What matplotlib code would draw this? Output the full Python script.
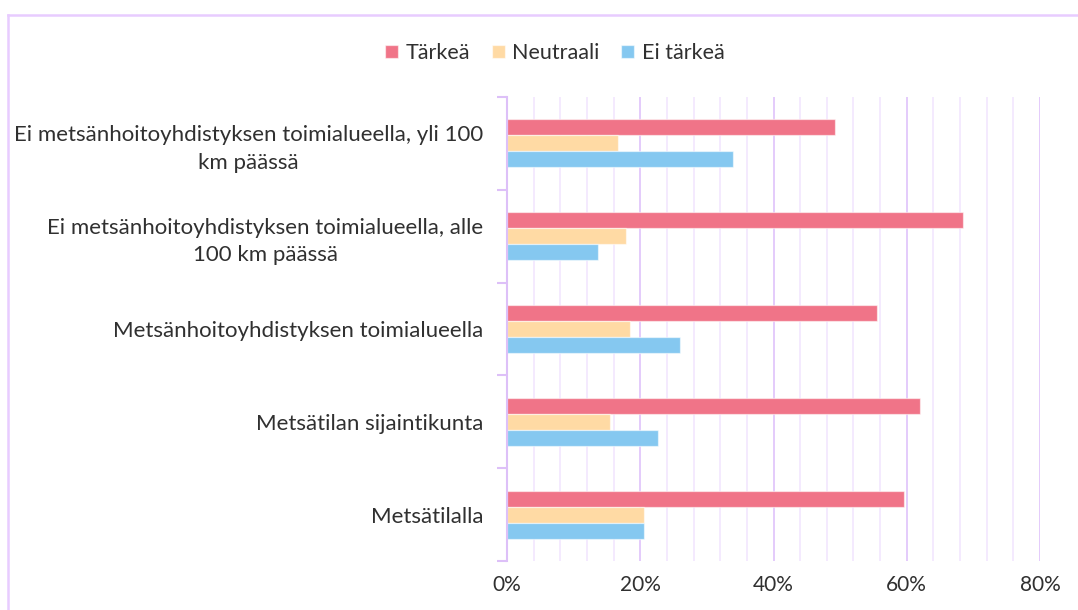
import matplotlib
matplotlib.use("Agg")
import matplotlib.pyplot as plt
from matplotlib.ticker import MultipleLocator, FuncFormatter
from matplotlib.lines import Line2D
import numpy as np

categories = [
    "Ei metsänhoitoyhdistyksen toimialueella, yli 100\nkm päässä",
    "Ei metsänhoitoyhdistyksen toimialueella, alle\n100 km päässä",
    "Metsänhoitoyhdistyksen toimialueella",
    "Metsätilan sijaintikunta",
    "Metsätilalla",
]
series_names = ["Tärkeä", "Neutraali", "Ei tärkeä"]
tarkea = [0.493, 0.685, 0.555, 0.620, 0.596]
neutraali = [0.167, 0.178, 0.185, 0.155, 0.205]
ei_tarkea = [0.339, 0.137, 0.259, 0.226, 0.205]
x_ticks = [0.0, 0.2, 0.4, 0.6, 0.8]

colors = ["#F07488", "#FFDAA4", "#85C8F0"]
text_color = "#303030"
font = "Lato"

plt.rcParams["font.family"] = [font, "DejaVu Sans"]

W, H = 1078, 610
fig = plt.figure(figsize=(W / 100, H / 100), dpi=100)
fig.patch.set_facecolor("white")

# chart border (top and left visible, rest clipped)
fig.add_artist(Line2D([8 / W, 8 / W], [0, 1 - 15 / H], transform=fig.transFigure,
                      color="#E8CCFF", lw=1.8))
fig.add_artist(Line2D([8 / W, 1], [1 - 15 / H, 1 - 15 / H], transform=fig.transFigure,
                      color="#E8CCFF", lw=1.8))

left, right = 507 / W, 1040 / W
bottom, top = 1 - 561 / H, 1 - 97 / H
ax = fig.add_axes([left, bottom, right - left, top - bottom])

n = len(categories)
y = np.arange(n)
h = 0.172
for vals, off, c, name in zip([tarkea, neutraali, ei_tarkea], [-h, 0, h], colors, series_names):
    ax.barh(y + off, vals, height=h, color=c, edgecolor=(1, 1, 1, 0.55), linewidth=0.9,
            label=name, zorder=3)

ax.set_xlim(0, 0.8)
ax.set_ylim(n - 0.5, -0.5)

ax.xaxis.set_major_locator(MultipleLocator(0.2))
ax.xaxis.set_minor_locator(MultipleLocator(0.04))
ax.xaxis.set_major_formatter(FuncFormatter(lambda v, p: f"{v * 100:.0f}%"))
ax.set_xticks(x_ticks)
ax.grid(axis="x", which="minor", color="#F4EAFE", lw=1.4, zorder=0)
ax.grid(axis="x", which="major", color="#E4CBFB", lw=1.4, zorder=1)
ax.tick_params(axis="x", which="both", length=0, pad=10, labelsize=15, labelcolor=text_color)

ax.set_yticks(y)
ax.set_yticklabels(categories, multialignment="center", linespacing=1.45)
ax.set_yticks(np.arange(n + 1) - 0.5, minor=True)
ax.tick_params(axis="y", which="major", length=0, pad=17, labelsize=16, labelcolor=text_color)
ax.tick_params(axis="y", which="minor", length=7, width=1.5, color="#DDC0F8", direction="out")

for s in ["top", "right", "bottom"]:
    ax.spines[s].set_visible(False)
ax.spines["left"].set_color("#DDC0F8")
ax.spines["left"].set_linewidth(1.5)
ax.spines["left"].set_zorder(4)

fig.legend(loc="center", bbox_to_anchor=(555 / W, 1 - 53 / H), ncol=3, frameon=False,
           fontsize=15.5, labelcolor=text_color, handlelength=0.6, handleheight=0.6,
           handletextpad=0.35, columnspacing=1.0)

fig.savefig("out.png", dpi=100, facecolor="white")
